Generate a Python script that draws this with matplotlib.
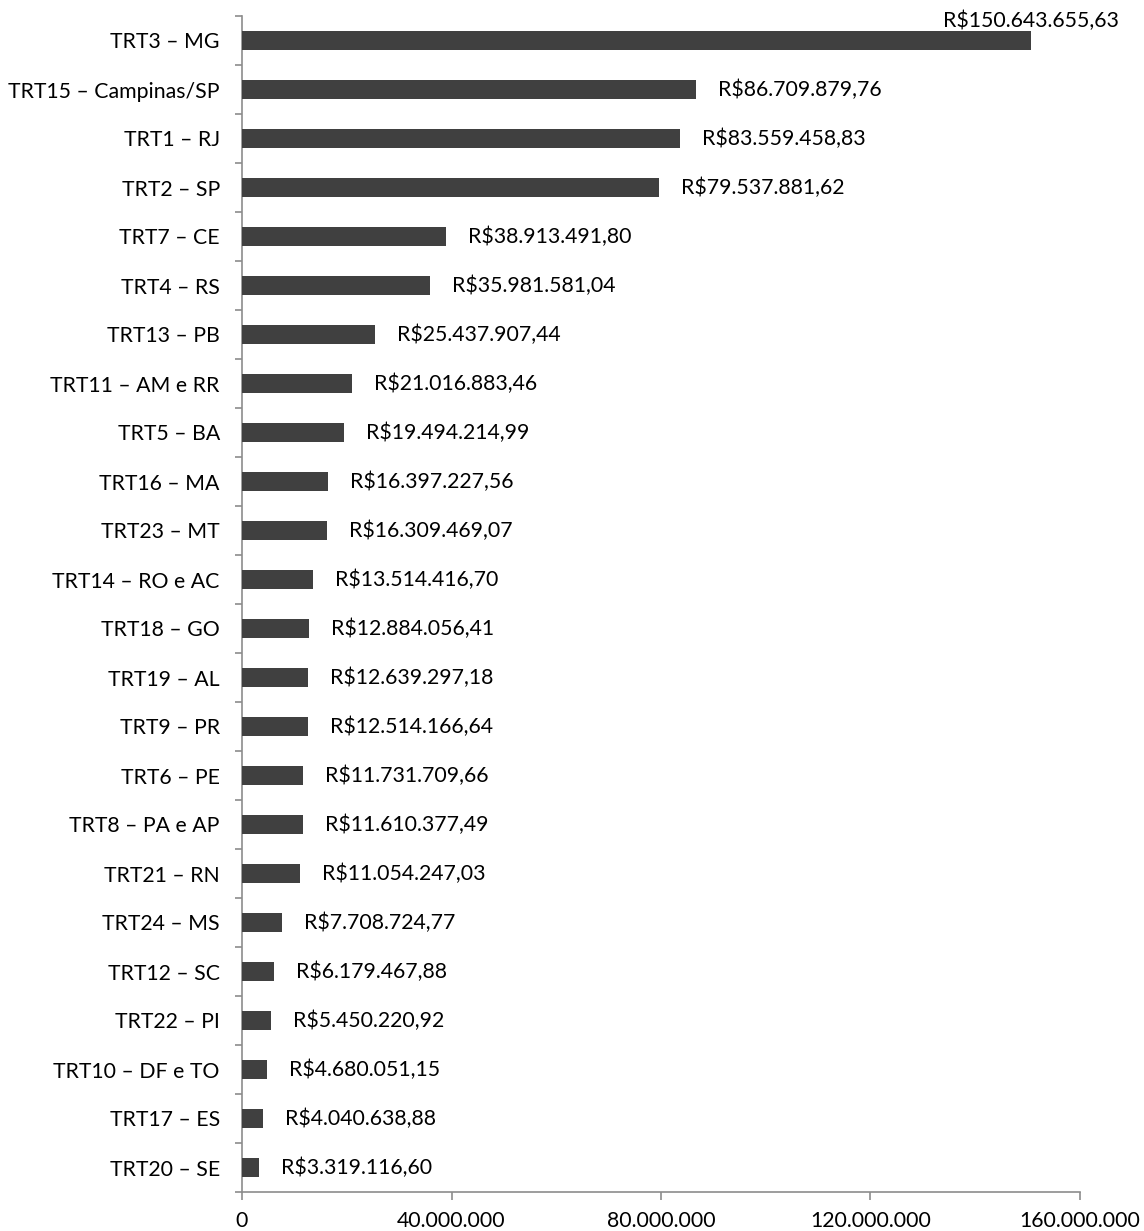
import matplotlib
matplotlib.use("Agg")
import matplotlib.pyplot as plt
from matplotlib.ticker import FuncFormatter

# categories from top to bottom, as in the picture
tribunais = [
    "TRT3 – MG", "TRT15 – Campinas/SP", "TRT1 – RJ", "TRT2 – SP", "TRT7 – CE",
    "TRT4 – RS", "TRT13 – PB", "TRT11 – AM e RR", "TRT5 – BA", "TRT16 – MA",
    "TRT23 – MT", "TRT14 – RO e AC", "TRT18 – GO", "TRT19 – AL", "TRT9 – PR",
    "TRT6 – PE", "TRT8 – PA e AP", "TRT21 – RN", "TRT24 – MS", "TRT12 – SC",
    "TRT22 – PI", "TRT10 – DF e TO", "TRT17 – ES", "TRT20 – SE",
]
valores = [
    150643655.63, 86709879.76, 83559458.83, 79537881.62, 38913491.80,
    35981581.04, 25437907.44, 21016883.46, 19494214.99, 16397227.56,
    16309469.07, 13514416.70, 12884056.41, 12639297.18, 12514166.64,
    11731709.66, 11610377.49, 11054247.03, 7708724.77, 6179467.88,
    5450220.92, 4680051.15, 4040638.88, 3319116.60,
]
xticks = [0, 40000000, 80000000, 120000000, 160000000]


def brl(v, casas=2):
    s = f"{v:,.{casas}f}"
    return s.replace(",", "X").replace(".", ",").replace("X", ".")


plt.rcParams['font.family'] = ['Lato', 'DejaVu Sans']
fs = 15.3
fig = plt.figure(figsize=(11.44, 12.31), dpi=100)
ax = fig.add_axes([242 / 1144, 1 - 1192 / 1231, (1080 - 242) / 1144, (1192 - 16) / 1231])

n = len(tribunais)
pos = list(range(n))
ax.barh(pos, valores, height=0.4, color='#404040', zorder=3)
ax.set_ylim(n - 0.5, -0.5)
ax.set_xlim(0, 160000000)

# data labels
for i, v in enumerate(valores):
    txt = "R$" + brl(v)
    if i == 0:
        ax.text(v, i - 0.2, txt, ha='center', va='bottom', fontsize=fs, color='black')
    else:
        ax.annotate(txt, (v, i), xytext=(22, 0), textcoords='offset pixels',
                    ha='left', va='center', fontsize=fs, color='black')

# y axis: labels at centers, tick marks between categories
ax.set_yticks(pos)
ax.set_yticklabels(tribunais, fontsize=fs)
ax.set_yticks([p - 0.5 for p in range(n + 1)], minor=True)
ax.tick_params(axis='y', which='major', length=0, pad=16)
ax.tick_params(axis='y', which='minor', length=5, width=1.2, color='#8c8c8c')

ax.set_xticks(xticks)
ax.xaxis.set_major_formatter(FuncFormatter(lambda v, p: brl(v, 0)))
ax.tick_params(axis='x', length=6, width=1.2, color='#8c8c8c', labelsize=fs, pad=8)

for side in ['top', 'right']:
    ax.spines[side].set_visible(False)
for side in ['left', 'bottom']:
    ax.spines[side].set_color('#8c8c8c')
    ax.spines[side].set_linewidth(1.2)

fig.savefig("out.png", dpi=100)
